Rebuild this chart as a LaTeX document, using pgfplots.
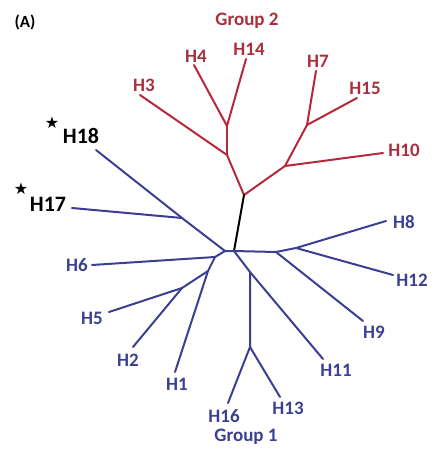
\documentclass[border=0pt]{standalone}
\usepackage{pgfplots}
\pgfplotsset{compat=1.18}
\usepackage{fontspec}
\setmainfont{Carlito}[BoldFont={Carlito Bold}]
\newfontfamily\symfont{DejaVu Sans}
\definecolor{tred}{HTML}{B52A3A}
\definecolor{tredtxt}{HTML}{A8303E}
\definecolor{tblue}{HTML}{3A3F94}
\definecolor{tbluetxt}{HTML}{3B4190}
\tikzset{lbl/.style={font=\bfseries\fontsize{19}{22}\selectfont, inner sep=0pt, anchor=center}}
\begin{document}
\begin{tikzpicture}
\begin{axis}[
  scale only axis, width=432pt, height=450pt,
  xmin=0, xmax=432, ymin=0, ymax=450, y dir=reverse,
  axis lines=box, axis line style={draw=none},
  xtick=\empty, ytick=\empty, clip=false,
  every axis plot/.append style={line width=2pt, line join=round, line cap=round, mark=none},
]
% red group 2
\addplot[tred] coordinates {(140,95) (227,155) (244,195) (285,166) (383,153)};
\addplot[tred] coordinates {(194,65) (227,126) (246,59)};
\addplot[tred] coordinates {(227,126) (227,155)};
\addplot[tred] coordinates {(316,71) (307,125) (357,98)};
\addplot[tred] coordinates {(307,125) (285,166)};
% black connector
\addplot[black] coordinates {(244,195) (234,251)};
% blue group 1
\addplot[tblue] coordinates {(96,150) (182,218) (225,251) (234,251) (276,252) (296,248) (386,221)};
\addplot[tblue] coordinates {(72,208) (182,218)};
\addplot[tblue] coordinates {(225,251) (215,257) (92,265)};
\addplot[tblue] coordinates {(215,257) (208,271) (182,288) (109,312)};
\addplot[tblue] coordinates {(182,288) (133,347)};
\addplot[tblue] coordinates {(208,271) (175,372)};
\addplot[tblue] coordinates {(296,248) (393,275)};
\addplot[tblue] coordinates {(276,252) (363,321)};
\addplot[tblue] coordinates {(234,251) (250,272) (323,359)};
\addplot[tblue] coordinates {(250,272) (250,347) (228,403)};
\addplot[tblue] coordinates {(250,347) (280,397)};
% labels
\node[lbl, font=\bfseries\fontsize{17}{20}\selectfont] at (axis cs:25,22) {(A)};
\node[lbl, text=tredtxt] at (axis cs:247,21) {Group 2};
\node[lbl, text=tbluetxt] at (axis cs:246,437) {Group 1};
\node[lbl, text=tredtxt] at (axis cs:144,85) {H3};
\node[lbl, text=tredtxt] at (axis cs:196,56) {H4};
\node[lbl, text=tredtxt] at (axis cs:249,49) {H14};
\node[lbl, text=tredtxt] at (axis cs:318,61) {H7};
\node[lbl, text=tredtxt] at (axis cs:365,88) {H15};
\node[lbl, text=tredtxt] at (axis cs:404,150) {H10};
\node[lbl, text=tbluetxt] at (axis cs:404,222) {H8};
\node[lbl, text=tbluetxt] at (axis cs:412,280) {H12};
\node[lbl, text=tbluetxt] at (axis cs:374,332) {H9};
\node[lbl, text=tbluetxt] at (axis cs:336,370) {H11};
\node[lbl, text=tbluetxt] at (axis cs:288,408) {H13};
\node[lbl, text=tbluetxt] at (axis cs:224,416) {H16};
\node[lbl, text=tbluetxt] at (axis cs:177,384) {H1};
\node[lbl, text=tbluetxt] at (axis cs:128,360) {H2};
\node[lbl, text=tbluetxt] at (axis cs:92,318) {H5};
\node[lbl, text=tbluetxt] at (axis cs:77,265) {H6};
\node[lbl, font=\bfseries\fontsize{22}{26}\selectfont] at (axis cs:81,136) {H18};
\node[lbl, font=\bfseries\fontsize{22}{26}\selectfont] at (axis cs:48,204) {H17};
\node[inner sep=0pt, font=\symfont\fontsize{16}{18}\selectfont] at (axis cs:52,123) {★};
\node[inner sep=0pt, font=\symfont\fontsize{16}{18}\selectfont] at (axis cs:21,189) {★};
\end{axis}
\end{tikzpicture}
\end{document}
